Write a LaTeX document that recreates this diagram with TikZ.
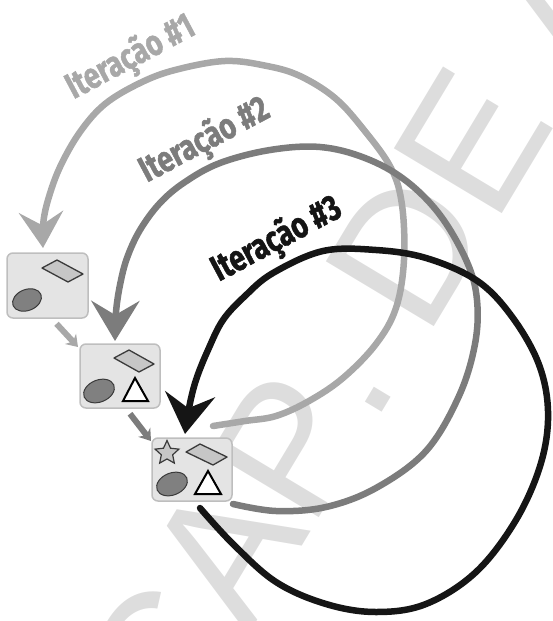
\documentclass[tikz,border=0pt]{standalone}
\usepackage{fontspec}
\setmainfont{Liberation Sans}
\newfontfamily\labfont[FakeBold=1.6]{Fira Sans}
\newfontfamily\wmfont[Kerning=Off]{Liberation Sans}
\usetikzlibrary{arrows.meta,shapes.geometric,calc}
\definecolor{gA}{HTML}{A8A8A8}
\definecolor{gB}{HTML}{7C7C7C}
\definecolor{gC}{HTML}{151515}
\definecolor{wm}{HTML}{DDDDDD}
\definecolor{boxfill}{HTML}{E4E4E4}
\definecolor{boxline}{HTML}{BEBEBE}
\definecolor{shapefill}{HTML}{C6C6C6}
\definecolor{ellfill}{HTML}{808080}
\definecolor{outl}{HTML}{3A3A3A}
\begin{document}
\begin{tikzpicture}[x=1pt,y=-1pt,
  box/.style={draw=boxline, fill=boxfill, line width=1.5pt, rounded corners=6pt, inner sep=0pt},
  lbl/.style={font=\labfont\bfseries\fontsize{36}{36}\selectfont, rotate=28, inner sep=0pt},
  loopline/.style={line width=6.5pt, line cap=round},
  rhomb/.style={draw=outl, fill=shapefill, line width=1.3pt, line join=round},
  oval/.style={draw=outl, fill=ellfill, line width=1pt},
  tri/.style={draw=black, fill=white, line width=2pt, line join=miter},
  hop/.style={line width=6pt, -{Stealth[length=11pt,width=15pt]}}]
\useasboundingbox (0,0) rectangle (552,621);
\begin{scope}
\clip (0,0) rectangle (552,621);
% watermark
\node[anchor=base west, rotate=59, inner sep=0pt, text=wm,
      font=\wmfont\fontsize{183}{183}\selectfont] (wmk) at (180,749) {CAP. DE A};
\end{scope}

\path (47.5,285.5) coordinate (p1) (120,376) coordinate (p2) (192,469.5) coordinate (p3);

% loop 1 (light grey)
\coordinate (s1) at (213,426);
\draw[gA, loopline, -{Stealth[length=36pt,width=44pt,inset=13pt]}]
  plot[smooth, tension=0.6] coordinates {(s1) (245,421) (276,416) (309,401) (343,378) (376,344) (396,308) (404,260) (402,205) (391,168) (364,130) (335,98) (300,76) (267,66) (225,61) (175,70) (140,83) (105,104) (80,132) (60,167) (48,200) (43,225) (43,248)};

% loop 2 (medium grey)
\coordinate (s2) at (233,504);
\draw[gB, loopline, -{Stealth[length=40pt,width=48pt,inset=14pt]}]
  plot[smooth, tension=0.6] coordinates {(s2) (276,511) (326,507) (376,488) (426,451) (459,396) (475,344) (477,300) (467,262) (440,215) (405,180) (365,158) (320,147) (270,150) (220,163) (185,182) (160,203) (140,230) (127,258) (120,285) (116,312) (115,341)};

% loop 3 (black)
\coordinate (s3) at (200,508);
\draw[gC, loopline, -{Stealth[length=40pt,width=50pt,inset=14pt]}]
  plot[smooth, tension=0.6] coordinates {(s3) (233,544) (276,582) (326,604) (376,612) (426,604) (476,572) (516,520) (541,463) (548,411) (538,362) (510,314) (476,280) (426,258) (376,250) (323,251) (273,273) (245,296) (223,320) (208,350) (196,380) (189,408) (185,434)};

% labels
\node[lbl, text=gA] (l1) at (131,58) {\scalebox{0.78}[1]{Iteração \#1}};
\node[lbl, text=gB] (l2) at (205,141) {\scalebox{0.78}[1]{Iteração \#2}};
\node[lbl, text=gC] (l3) at (277,240) {\scalebox{0.78}[1]{Iteração \#3}};

% boxes
\node[box, minimum width=81pt, minimum height=65pt] (b1) at (p1) {};
\path (p2) ++(-40,-32) coordinate (b2nw);
\draw[gA, hop] ([xshift=9pt,yshift=-5pt]b1.south) -- ([xshift=-2pt,yshift=-3pt]b2nw);
\node[box, minimum width=80pt, minimum height=64pt] (b2) at (p2) {};
\path (p3) ++(-40,-31.5) coordinate (b3nw);
\draw[gB, hop] ([xshift=10pt,yshift=-5pt]b2.south) -- ([xshift=-1pt,yshift=-3pt]b3nw);
\node[box, minimum width=80pt, minimum height=63pt] (b3) at (p3) {};

% box 1 content
\draw[rhomb] (42,268) -- (57,260) -- (83,274) -- (68,282) -- cycle;
\draw[oval, rotate around={22:(27,300)}] (27,300) ellipse [x radius=15pt, y radius=10.5pt];

% box 2 content
\draw[rhomb] (114,358) -- (129,350) -- (154,364) -- (139,372) -- cycle;
\draw[oval, rotate around={22:(99,391)}] (99,391) ellipse [x radius=16pt, y radius=11pt];
\draw[tri] (135,378) -- (148,401) -- (123,401) -- cycle;

% box 3 content
\node[star, star points=5, star point ratio=2.1, minimum size=25pt, inner sep=0pt,
      draw=outl, fill=shapefill, line width=1.2pt] (st) at (167,453) {};
\draw[rhomb] (186,452) -- (200,444) -- (227,457) -- (213,465) -- cycle;
\draw[oval, rotate around={22:(172,484)}] (172,484) ellipse [x radius=16pt, y radius=11pt];
\draw[tri] (208,471) -- (221,494) -- (195,494) -- cycle;
\end{tikzpicture}
\end{document}
